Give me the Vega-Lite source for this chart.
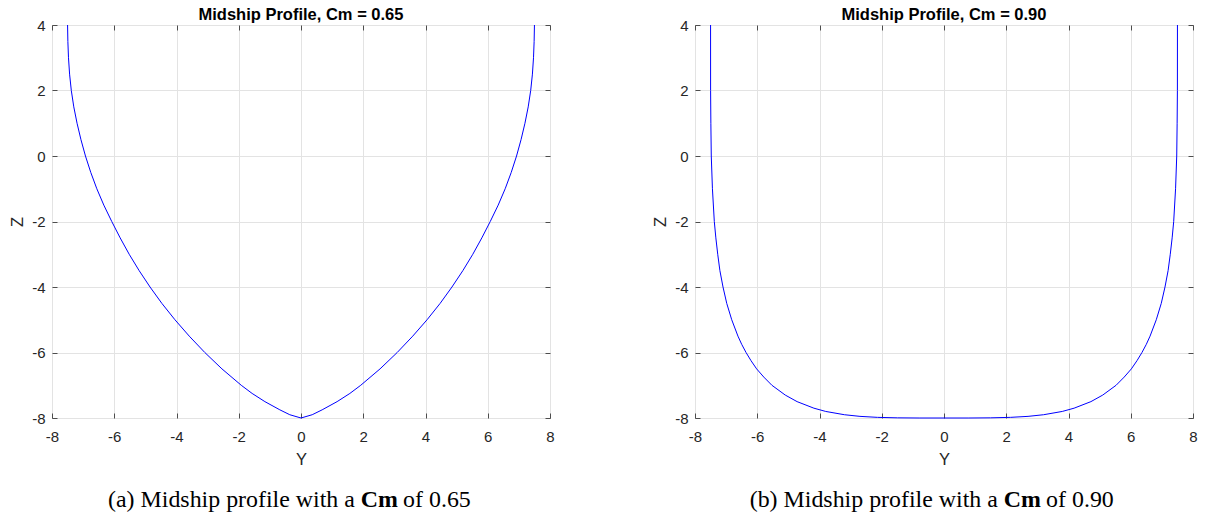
{
  "$schema": "https://vega.github.io/schema/vega-lite/v6.json",
  "background": "white",
  "padding": {"left": 9, "top": 6, "right": 0, "bottom": 0},
  "spacing": 97,
  "config": {
    "view": {"stroke": "#4d4d4d", "strokeWidth": 1},
    "axis": {
      "labelFont": "Liberation Sans", "labelFontSize": 15, "labelColor": "#262626", "labelFlush": false,
      "labelExpr": "datum.value < 0 ? '-' + abs(datum.value) : '' + datum.value",
      "titleFont": "Liberation Sans", "titleFontSize": 16.5, "titleFontWeight": "normal", "titleColor": "#262626",
      "gridColor": "#e3e3e3", "gridWidth": 1, "tickColor": "#4d4d4d", "tickSize": -5, "domain": false
    },
    "title": {"font": "Liberation Sans", "fontSize": 16.5, "fontWeight": "bold", "color": "#000000", "anchor": "middle", "offset": -5}
  },
  "datasets": {
    "cm065": [
      {"y": -7.5, "z": 4}, {"y": -7.49, "z": 3.5}, {"y": -7.47, "z": 3}, {"y": -7.435, "z": 2.5}, {"y": -7.38, "z": 2},
      {"y": -7.3, "z": 1.5}, {"y": -7.195, "z": 1}, {"y": -7.07, "z": 0.5}, {"y": -6.925, "z": 0}, {"y": -6.755, "z": -0.5},
      {"y": -6.56, "z": -1}, {"y": -6.335, "z": -1.5}, {"y": -6.08, "z": -2}, {"y": -5.81, "z": -2.5}, {"y": -5.52, "z": -3},
      {"y": -5.2, "z": -3.5}, {"y": -4.85, "z": -4}, {"y": -4.47, "z": -4.5}, {"y": -4.05, "z": -5}, {"y": -3.59, "z": -5.5},
      {"y": -3.09, "z": -6}, {"y": -2.54, "z": -6.5}, {"y": -1.92, "z": -7}, {"y": -1.57, "z": -7.25}, {"y": -1.16, "z": -7.5},
      {"y": -0.68, "z": -7.75}, {"y": -0.36, "z": -7.9}, {"y": 0, "z": -8},
      {"y": 0.36, "z": -7.9}, {"y": 0.68, "z": -7.75}, {"y": 1.16, "z": -7.5}, {"y": 1.57, "z": -7.25}, {"y": 1.92, "z": -7},
      {"y": 2.54, "z": -6.5}, {"y": 3.09, "z": -6}, {"y": 3.59, "z": -5.5}, {"y": 4.05, "z": -5}, {"y": 4.47, "z": -4.5},
      {"y": 4.85, "z": -4}, {"y": 5.2, "z": -3.5}, {"y": 5.52, "z": -3}, {"y": 5.81, "z": -2.5}, {"y": 6.08, "z": -2},
      {"y": 6.335, "z": -1.5}, {"y": 6.56, "z": -1}, {"y": 6.755, "z": -0.5}, {"y": 6.925, "z": 0}, {"y": 7.07, "z": 0.5},
      {"y": 7.195, "z": 1}, {"y": 7.3, "z": 1.5}, {"y": 7.38, "z": 2}, {"y": 7.435, "z": 2.5}, {"y": 7.47, "z": 3},
      {"y": 7.49, "z": 3.5}, {"y": 7.5, "z": 4}
    ],
    "cm090": [
      {"y": -7.5, "z": 4}, {"y": -7.499, "z": 2}, {"y": -7.49, "z": 1}, {"y": -7.477, "z": 0}, {"y": -7.44, "z": -1},
      {"y": -7.38, "z": -2}, {"y": -7.33, "z": -2.5}, {"y": -7.27, "z": -3}, {"y": -7.2, "z": -3.5}, {"y": -7.1, "z": -4},
      {"y": -6.98, "z": -4.5}, {"y": -6.82, "z": -5}, {"y": -6.62, "z": -5.5}, {"y": -6.5, "z": -5.75}, {"y": -6.36, "z": -6},
      {"y": -6.2, "z": -6.25}, {"y": -6.02, "z": -6.5}, {"y": -5.79, "z": -6.75}, {"y": -5.53, "z": -7}, {"y": -5.1, "z": -7.3},
      {"y": -4.72, "z": -7.5}, {"y": -4.18, "z": -7.7}, {"y": -3.8, "z": -7.8}, {"y": -3.2, "z": -7.9}, {"y": -2.7, "z": -7.95},
      {"y": -2.14, "z": -7.98}, {"y": -1.5, "z": -7.995}, {"y": -0.8, "z": -8}, {"y": 0, "z": -8},
      {"y": 0.8, "z": -8}, {"y": 1.5, "z": -7.995}, {"y": 2.14, "z": -7.98}, {"y": 2.7, "z": -7.95}, {"y": 3.2, "z": -7.9},
      {"y": 3.8, "z": -7.8}, {"y": 4.18, "z": -7.7}, {"y": 4.72, "z": -7.5}, {"y": 5.1, "z": -7.3}, {"y": 5.53, "z": -7},
      {"y": 5.79, "z": -6.75}, {"y": 6.02, "z": -6.5}, {"y": 6.2, "z": -6.25}, {"y": 6.36, "z": -6}, {"y": 6.5, "z": -5.75},
      {"y": 6.62, "z": -5.5}, {"y": 6.82, "z": -5}, {"y": 6.98, "z": -4.5}, {"y": 7.1, "z": -4}, {"y": 7.2, "z": -3.5},
      {"y": 7.27, "z": -3}, {"y": 7.33, "z": -2.5}, {"y": 7.38, "z": -2}, {"y": 7.44, "z": -1}, {"y": 7.477, "z": 0},
      {"y": 7.49, "z": 1}, {"y": 7.499, "z": 2}, {"y": 7.5, "z": 4}
    ],
    "captions": [
      {"panel": "a", "pre": "(a) Midship profile with a", "bold": "Cm", "post": "of 0.65"},
      {"panel": "b", "pre": "(b) Midship profile with a", "bold": "Cm", "post": "of 0.90"}
    ]
  },
  "hconcat": [
    {
      "width": 498, "height": 393,
      "title": "Midship Profile, Cm = 0.65",
      "resolve": {"axis": {"x": "independent", "y": "independent"}},
      "layer": [
        {
          "data": {"name": "cm065"},
          "mark": {"type": "line", "color": "#0000ff", "strokeWidth": 1},
          "encoding": {
            "x": {"field": "y", "type": "quantitative", "scale": {"domain": [-8, 8], "nice": false, "zero": false},
                  "axis": {"orient": "bottom", "values": [-8, -6, -4, -2, 0, 2, 4, 6, 8], "title": "Y", "grid": true, "labelPadding": 16, "titlePadding": 7}},
            "y": {"field": "z", "type": "quantitative", "scale": {"domain": [-8, 4], "nice": false, "zero": false},
                  "axis": {"orient": "left", "values": [-8, -6, -4, -2, 0, 2, 4], "title": "Z", "grid": true, "labelPadding": 12, "titlePadding": 6}}
          }
        },
        {
          "data": {"name": "cm065"},
          "mark": {"type": "line", "opacity": 0},
          "encoding": {
            "x": {"field": "y", "type": "quantitative", "scale": {"domain": [-8, 8], "nice": false, "zero": false},
                  "axis": {"orient": "top", "values": [-8, -6, -4, -2, 0, 2, 4, 6, 8], "title": null, "labels": false, "grid": false}},
            "y": {"field": "z", "type": "quantitative", "scale": {"domain": [-8, 4], "nice": false, "zero": false},
                  "axis": {"orient": "right", "values": [-8, -6, -4, -2, 0, 2, 4], "title": null, "labels": false, "grid": false}}
          }
        },
        {
          "data": {"name": "captions"},
          "transform": [{"filter": "datum.panel == 'a'"}],
          "mark": {"type": "text", "align": "right", "baseline": "alphabetic", "font": "Liberation Serif", "fontSize": 23.9, "color": "#000000"},
          "encoding": {
            "x": {"datum": 1.73, "type": "quantitative", "axis": null, "scale": {"domain": [-8, 8], "nice": false, "zero": false}},
            "y": {"datum": -10.72, "type": "quantitative", "axis": null, "scale": {"domain": [-8, 4], "nice": false, "zero": false}},
            "text": {"field": "pre"}
          }
        },
        {
          "data": {"name": "captions"},
          "transform": [{"filter": "datum.panel == 'a'"}],
          "mark": {"type": "text", "align": "left", "baseline": "alphabetic", "font": "Liberation Serif", "fontSize": 23.9, "fontWeight": "bold", "color": "#000000"},
          "encoding": {
            "x": {"datum": 1.92, "type": "quantitative", "axis": null, "scale": {"domain": [-8, 8], "nice": false, "zero": false}},
            "y": {"datum": -10.72, "type": "quantitative", "axis": null, "scale": {"domain": [-8, 4], "nice": false, "zero": false}},
            "text": {"field": "bold"}
          }
        },
        {
          "data": {"name": "captions"},
          "transform": [{"filter": "datum.panel == 'a'"}],
          "mark": {"type": "text", "align": "left", "baseline": "alphabetic", "font": "Liberation Serif", "fontSize": 23.9, "color": "#000000"},
          "encoding": {
            "x": {"datum": 3.28, "type": "quantitative", "axis": null, "scale": {"domain": [-8, 8], "nice": false, "zero": false}},
            "y": {"datum": -10.72, "type": "quantitative", "axis": null, "scale": {"domain": [-8, 4], "nice": false, "zero": false}},
            "text": {"field": "post"}
          }
        }
      ]
    },
    {
      "width": 498, "height": 393,
      "title": "Midship Profile, Cm = 0.90",
      "resolve": {"axis": {"x": "independent", "y": "independent"}},
      "layer": [
        {
          "data": {"name": "cm090"},
          "mark": {"type": "line", "color": "#0000ff", "strokeWidth": 1},
          "encoding": {
            "x": {"field": "y", "type": "quantitative", "scale": {"domain": [-8, 8], "nice": false, "zero": false},
                  "axis": {"orient": "bottom", "values": [-8, -6, -4, -2, 0, 2, 4, 6, 8], "title": "Y", "grid": true, "labelPadding": 16, "titlePadding": 7}},
            "y": {"field": "z", "type": "quantitative", "scale": {"domain": [-8, 4], "nice": false, "zero": false},
                  "axis": {"orient": "left", "values": [-8, -6, -4, -2, 0, 2, 4], "title": "Z", "grid": true, "labelPadding": 12, "titlePadding": 6}}
          }
        },
        {
          "data": {"name": "cm090"},
          "mark": {"type": "line", "opacity": 0},
          "encoding": {
            "x": {"field": "y", "type": "quantitative", "scale": {"domain": [-8, 8], "nice": false, "zero": false},
                  "axis": {"orient": "top", "values": [-8, -6, -4, -2, 0, 2, 4, 6, 8], "title": null, "labels": false, "grid": false}},
            "y": {"field": "z", "type": "quantitative", "scale": {"domain": [-8, 4], "nice": false, "zero": false},
                  "axis": {"orient": "right", "values": [-8, -6, -4, -2, 0, 2, 4], "title": null, "labels": false, "grid": false}}
          }
        },
        {
          "data": {"name": "captions"},
          "transform": [{"filter": "datum.panel == 'b'"}],
          "mark": {"type": "text", "align": "right", "baseline": "alphabetic", "font": "Liberation Serif", "fontSize": 23.9, "color": "#000000"},
          "encoding": {
            "x": {"datum": 1.73, "type": "quantitative", "axis": null, "scale": {"domain": [-8, 8], "nice": false, "zero": false}},
            "y": {"datum": -10.72, "type": "quantitative", "axis": null, "scale": {"domain": [-8, 4], "nice": false, "zero": false}},
            "text": {"field": "pre"}
          }
        },
        {
          "data": {"name": "captions"},
          "transform": [{"filter": "datum.panel == 'b'"}],
          "mark": {"type": "text", "align": "left", "baseline": "alphabetic", "font": "Liberation Serif", "fontSize": 23.9, "fontWeight": "bold", "color": "#000000"},
          "encoding": {
            "x": {"datum": 1.92, "type": "quantitative", "axis": null, "scale": {"domain": [-8, 8], "nice": false, "zero": false}},
            "y": {"datum": -10.72, "type": "quantitative", "axis": null, "scale": {"domain": [-8, 4], "nice": false, "zero": false}},
            "text": {"field": "bold"}
          }
        },
        {
          "data": {"name": "captions"},
          "transform": [{"filter": "datum.panel == 'b'"}],
          "mark": {"type": "text", "align": "left", "baseline": "alphabetic", "font": "Liberation Serif", "fontSize": 23.9, "color": "#000000"},
          "encoding": {
            "x": {"datum": 3.28, "type": "quantitative", "axis": null, "scale": {"domain": [-8, 8], "nice": false, "zero": false}},
            "y": {"datum": -10.72, "type": "quantitative", "axis": null, "scale": {"domain": [-8, 4], "nice": false, "zero": false}},
            "text": {"field": "post"}
          }
        }
      ]
    }
  ]
}
